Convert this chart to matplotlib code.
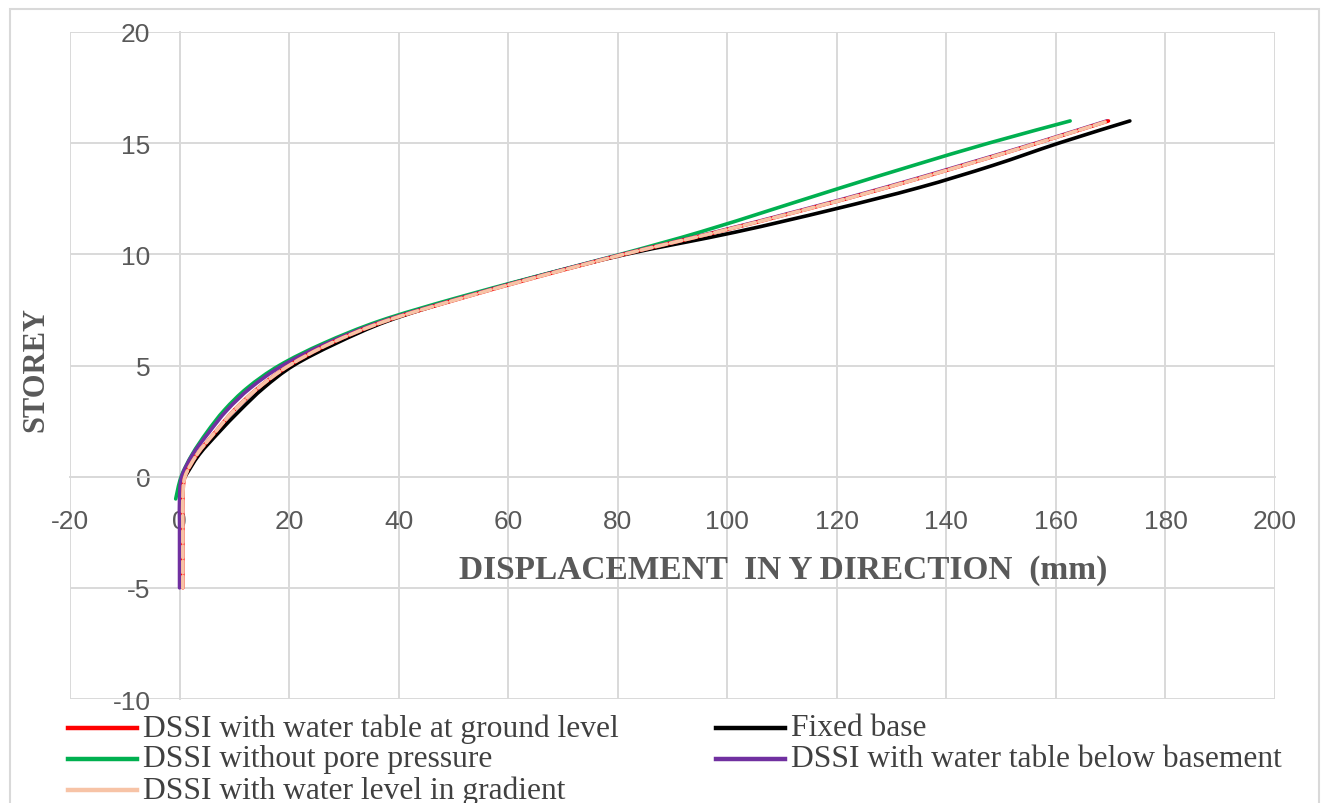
import matplotlib
matplotlib.use("Agg")
import matplotlib.pyplot as plt
from matplotlib.path import Path
from matplotlib.patches import PathPatch, Rectangle
from matplotlib.lines import Line2D

# ---------------- data ----------------
storeys_all = list(range(-5, 17))      # -5 .. 16
storeys_green = list(range(-1, 17))    # -1 .. 16
storeys_fixed = list(range(0, 17))     # 0 .. 16

red_disp = [0.6, 0.6, 0.6, 0.6, 0.6,
            1.0, 3.2, 6.5, 10.0, 14.4, 20.0, 27.6, 37.6, 51.1, 65.6,
            81.1, 98.1, 114.1, 129.1, 143.1, 156.6, 169.6]
fixed_disp = [1.0, 3.6, 7.2, 11.1, 15.4, 20.8, 28.6, 38.0, 50.8, 65.2,
              81.5, 101.5, 119.0, 135.0, 148.5, 160.5, 173.5]
green_disp = [-0.7, 0.3, 2.3, 5.0, 8.2, 12.4, 18.2, 26.3, 36.5, 50.0,
              65.0, 80.5, 95.0, 108.0, 120.8, 134.0, 147.7, 162.6]
purple_disp = [0.0, 0.0, 0.0, 0.0, 0.0,
               0.4, 2.4, 5.4, 8.7, 13.0, 18.8, 26.9, 37.2, 50.8, 65.3,
               80.8, 97.8, 113.7, 128.7, 142.7, 156.3, 169.3]
pink_disp = [0.6, 0.6, 0.6, 0.6, 0.6,
             1.0, 3.2, 6.5, 10.0, 14.4, 20.0, 27.6, 37.6, 51.1, 65.6,
             81.1, 98.1, 114.1, 129.1, 143.1, 156.6, 169.6]

labels = ["DSSI with water table at ground level", "Fixed base",
          "DSSI without pore pressure", "DSSI with water table below basement",
          "DSSI with water level in gradient"]
colors = ["#ff0000", "#000000", "#00b050", "#7030a0", "#f7c3a6"]

x_ticks = list(range(-20, 201, 20))
y_ticks = list(range(-10, 21, 5))

plt.rcParams['axes.unicode_minus'] = False

W, H = 1329, 804
fig = plt.figure(figsize=(W / 100, H / 100), dpi=100)
ax = fig.add_axes([70 / W, 1 - 700 / H, (1275 - 70) / W, (700 - 33) / H])
ax.set_xlim(-20, 200)
ax.set_ylim(-10, 20)
ax.set_xticks(x_ticks)
ax.set_yticks(y_ticks)
ax.grid(True, color="#d9d9d9", lw=1.4)
ax.set_axisbelow(True)
for s in ["top", "right"]:
    ax.spines[s].set_visible(False)
ax.spines["left"].set_position(("data", 0))
ax.spines["bottom"].set_position(("data", 0))
for s in ["left", "bottom"]:
    ax.spines[s].set_color("#d9d9d9")
    ax.spines[s].set_linewidth(1.4)
ax.tick_params(length=0, labelsize=19, labelcolor="#595959")
ax.tick_params(axis="x", pad=23)
ax.tick_params(axis="y", pad=21)
for t in ax.get_xticklabels() + ax.get_yticklabels():
    t.set_fontfamily("Liberation Sans")


def smooth_path(xs, ys):
    pts = list(zip(xs, ys))
    n = len(pts)
    verts = [pts[0]]
    codes = [Path.MOVETO]
    for i in range(n - 1):
        p0 = pts[i - 1] if i > 0 else pts[i]
        p1 = pts[i]
        p2 = pts[i + 1]
        p3 = pts[i + 2] if i + 2 < n else pts[i + 1]
        c1 = (p1[0] + (p2[0] - p0[0]) / 6, p1[1] + (p2[1] - p0[1]) / 6)
        c2 = (p2[0] - (p3[0] - p1[0]) / 6, p2[1] - (p3[1] - p1[1]) / 6)
        verts += [c1, c2, p2]
        codes += [Path.CURVE4] * 3
    return Path(verts, codes)


def draw(xs, ys, color, z, lw=2.6, ls="-"):
    patch = PathPatch(smooth_path(xs, ys), fill=False, edgecolor=color,
                      lw=lw, zorder=z, linestyle=ls, capstyle="round",
                      joinstyle="round")
    ax.add_patch(patch)


draw(fixed_disp, storeys_fixed, colors[1], 3)
draw(green_disp, storeys_green, colors[2], 4)
draw(purple_disp, storeys_all, colors[3], 5)
draw(red_disp, storeys_all, colors[0], 6)
draw(pink_disp, storeys_all, colors[4], 7, ls=(0, (3.2, 1.0)))

# axis titles
fig.text(783 / W, 1 - 571 / H, "DISPLACEMENT  IN Y DIRECTION  (mm)",
         ha="center", va="center", fontsize=24, fontweight="bold",
         family="Liberation Serif", color="#595959")
fig.text(36 / W, 1 - 370 / H, "STOREY", rotation=90, ha="center",
         va="center", fontsize=22, fontweight="bold",
         family="Liberation Serif", color="#595959")

# legend (manual, below plot)
legend_items = [(0, 68, 729), (1, 716, 729), (2, 68, 760), (3, 716, 760),
                (4, 68, 791)]
for idx, lx, ly in legend_items:
    fy = 1 - ly / H
    fig.add_artist(Line2D([lx / W, (lx + 69) / W], [fy, fy],
                          transform=fig.transFigure, color=colors[idx],
                          lw=3.2))
    fig.text((lx + 75) / W, fy, labels[idx], ha="left", va="center",
             fontsize=22.7, family="Liberation Serif", color="#404040")

# outer chart border
fig.add_artist(Rectangle((10 / W, -0.05), 1309 / W, 1 - 10 / H + 0.05,
                         transform=fig.transFigure, fill=False,
                         edgecolor="#d9d9d9", lw=1.5))

fig.savefig("out.png", dpi=100, facecolor="white")
